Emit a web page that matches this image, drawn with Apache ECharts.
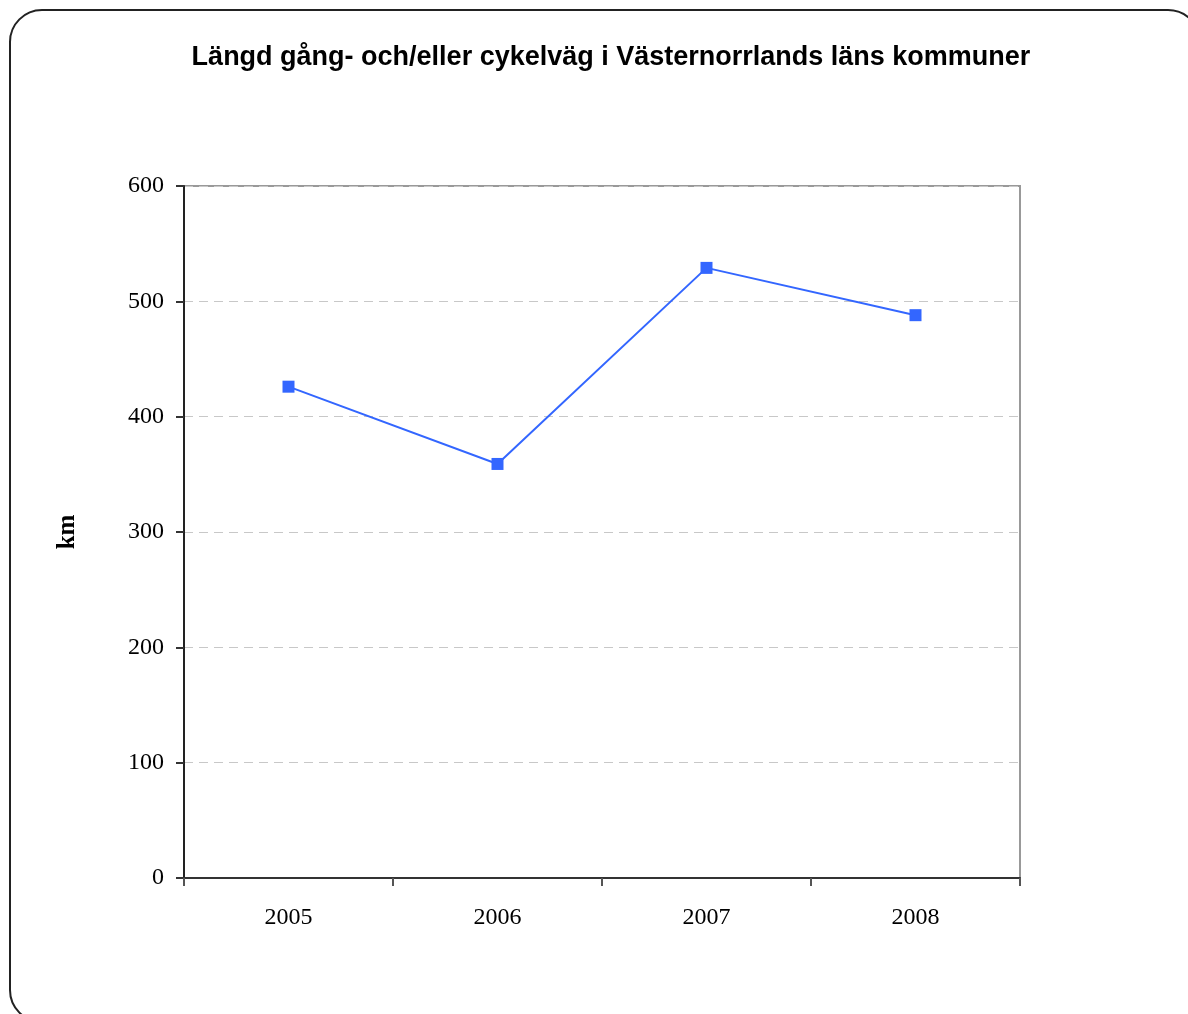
<!DOCTYPE html>
<html>
<head>
<meta charset="utf-8">
<script src="https://cdn.jsdelivr.net/npm/echarts@6/dist/echarts.min.js"></script>
<style>
html, body { margin: 0; padding: 0; background: #fff; }
#chart { width: 1188px; height: 1014px; }
</style>
</head>
<body>
<div id="chart"></div>
<script>
const years = ['2005', '2006', '2007', '2008'];
const lengthKm = [426, 359, 529, 488];

const chart = echarts.init(document.getElementById('chart'));
chart.setOption({
    backgroundColor: '#fff',
    animation: false,
    title: {
        text: 'Längd gång- och/eller cykelväg i Västernorrlands läns kommuner',
        left: 606,
        textAlign: 'center',
        top: 39,
        textStyle: {
            fontFamily: 'Liberation Sans',
            fontWeight: 'bold',
            fontSize: 27,
            color: '#000'
        }
    },
    graphic: [{
        type: 'rect',
        shape: {x: 10, y: 10, width: 1190, height: 1012, r: 32},
        style: {fill: 'none', stroke: '#222', lineWidth: 2},
        silent: true
    }],
    grid: {
        left: 184,
        right: 168,
        top: 186,
        bottom: 136,
        show: true,
        borderColor: '#999',
        borderWidth: 2
    },
    xAxis: {
        type: 'category',
        data: years,
        boundaryGap: true,
        axisLine: {lineStyle: {color: '#333', width: 2}},
        axisTick: {show: true, length: 8, inside: false, lineStyle: {color: '#555', width: 2}},
        axisLabel: {
            margin: 28,
            fontFamily: 'Liberation Serif',
            fontSize: 24,
            color: '#000'
        },
        splitLine: {show: false}
    },
    yAxis: {
        type: 'value',
        min: 0,
        max: 600,
        interval: 100,
        name: 'km',
        nameLocation: 'middle',
        nameGap: 104,
        nameRotate: 90,
        nameTextStyle: {
            fontFamily: 'Liberation Serif',
            fontWeight: 'bold',
            fontSize: 25,
            color: '#000'
        },
        axisLine: {show: true, lineStyle: {color: '#222', width: 2}},
        axisTick: {show: true, length: 8, lineStyle: {color: '#333', width: 2}},
        axisLabel: {
            margin: 20,
            fontFamily: 'Liberation Serif',
            fontSize: 24,
            color: '#000'
        },
        splitLine: {
            show: true,
            lineStyle: {color: '#c8c8c8', type: [9, 6], width: 1}
        }
    },
    series: [{
        type: 'line',
        data: lengthKm,
        symbol: 'rect',
        symbolSize: 12,
        lineStyle: {color: '#3366ff', width: 2},
        itemStyle: {color: '#3366ff'}
    }]
});
</script>
</body>
</html>
